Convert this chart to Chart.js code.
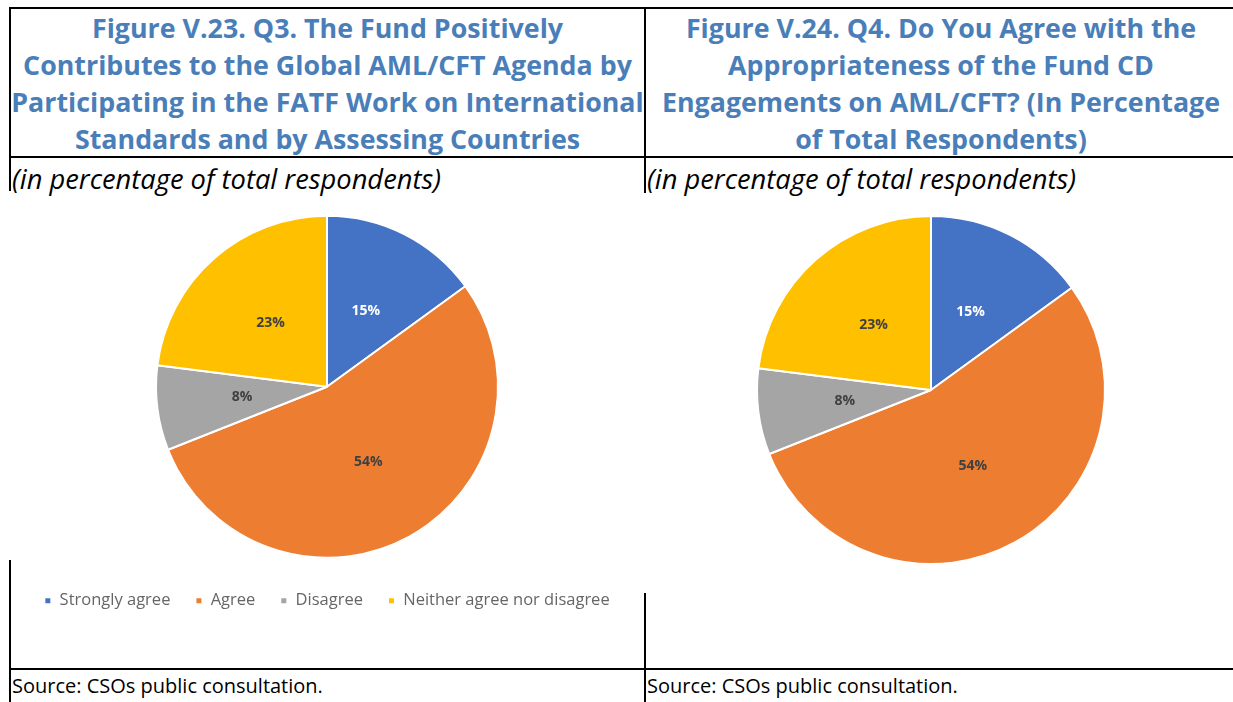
<!DOCTYPE html>
<html>
<head>
<meta charset="utf-8">
<script src="https://cdn.jsdelivr.net/npm/chart.js"></script>
<style>
  body { margin: 0; background: #fff; width: 1233px; height: 702px; position: relative; overflow: hidden; font-family: "Open Sans", sans-serif; }
  .line { position: absolute; background: #000; }
  .title { position: absolute; top: 9px; text-align: center; color: #4a7eb8; font-weight: 700; font-size: 26.8px; line-height: 37px; white-space: nowrap; }
  .sub { position: absolute; top: 161px; font-style: italic; font-size: 27.3px; line-height: 36px; color: #000; white-space: nowrap; }
  .src { position: absolute; top: 672px; font-size: 20px; line-height: 28px; color: #000; white-space: nowrap; }
  .box { position: absolute; }
</style>
</head>
<body>
<!-- table rules -->
<div class="line" style="left:9px; top:7px; width:1224px; height:2px;"></div>
<div class="line" style="left:9px; top:7px; width:2px; height:184px;"></div>
<div class="line" style="left:9px; top:560px; width:2px; height:142px;"></div>
<div class="line" style="left:644px; top:7px; width:2px; height:186px;"></div>
<div class="line" style="left:644px; top:593px; width:2px; height:109px;"></div>
<div class="line" style="left:9px; top:156px; width:1224px; height:2px;"></div>
<div class="line" style="left:9px; top:668px; width:1224px; height:2px;"></div>

<div class="title" style="left:10px; width:635px;">Figure V.23. Q3. The Fund Positively<br>Contributes to the Global AML/CFT Agenda by<br>Participating in the FATF Work on International<br>Standards and by Assessing Countries</div>
<div class="title" style="left:646px; width:590px;">Figure V.24. Q4. Do You Agree with the<br>Appropriateness of the Fund CD<br>Engagements on AML/CFT? (In Percentage<br>of Total Respondents)</div>

<div class="sub" style="left:12px;">(in percentage of total respondents)</div>
<div class="sub" style="left:647px;">(in percentage of total respondents)</div>

<div class="box" style="left:10px; top:205px; width:640px; height:418px;"><canvas id="q3"></canvas></div>
<div class="box" style="left:650px; top:200px; width:562px; height:380px;"><canvas id="q4"></canvas></div>

<div class="src" style="left:12px;">Source: CSOs public consultation.</div>
<div class="src" style="left:647px;">Source: CSOs public consultation.</div>

<script>
var answers = ["Strongly agree", "Agree", "Disagree", "Neither agree nor disagree"];
var q3Share = [15, 54, 8, 23];
var q4Share = [15, 54, 8, 23];
var sliceColors = ["#4472c4", "#ed7d31", "#a5a5a5", "#ffc000"];
var labelColors = ["#ffffff", "#404040", "#404040", "#404040"];

// prints the percentage in the middle of each slice
const sliceLabels = {
  id: "sliceLabels",
  afterDatasetsDraw(chart) {
    const ctx = chart.ctx;
    const meta = chart.getDatasetMeta(0);
    const values = chart.data.datasets[0].data;
    ctx.save();
    ctx.font = "bold 14px 'Open Sans', sans-serif";
    ctx.textAlign = "center";
    ctx.textBaseline = "middle";
    meta.data.forEach(function (arc, i) {
      const p = arc.tooltipPosition();
      ctx.fillStyle = labelColors[i];
      ctx.fillText(values[i] + "%", p.x, p.y);
    });
    ctx.restore();
  },
};

function makePie(id, values, showLegend, radius, pad) {
  const ctx = document.getElementById(id).getContext("2d");
  return new Chart(ctx, {
    type: "pie",
    data: {
      labels: answers,
      datasets: [
        {
          data: values,
          backgroundColor: sliceColors,
          borderColor: "#ffffff",
          borderWidth: 2,
          hoverOffset: 0,
        },
      ],
    },
    options: {
      responsive: true,
      maintainAspectRatio: false,
      animation: false,
      radius: radius,
      layout: { padding: pad },
      plugins: {
        legend: {
          display: showLegend,
          position: "bottom",
          labels: {
            boxWidth: 7,
            boxHeight: 7,
            padding: 25,
            color: "#666666",
            font: { family: "'Open Sans', sans-serif", size: 16.5 },
          },
        },
        tooltip: { enabled: false },
      },
    },
    plugins: [sliceLabels],
  });
}

makePie("q3", q3Share, true, 171, { top: 1, bottom: 4, left: 0, right: 6 });
makePie("q4", q4Share, false, 174, { top: 16, bottom: 16, left: 0, right: 0 });
</script>
</body>
</html>
